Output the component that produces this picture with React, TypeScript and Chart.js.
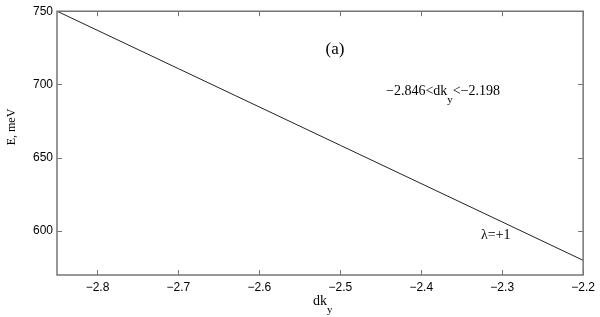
import React, { useEffect, useRef } from "react";
import { Chart, registerables } from "chart.js";

Chart.register(...registerables);

const dkY: number[] = [-2.85, -2.7, -2.5, -2.3, -2.2];
const energy: number[] = [750, 710.8, 658.5, 606.2, 580];
const xTicks: number[] = [-2.8, -2.7, -2.6, -2.5, -2.4, -2.3, -2.2];
const yTicks: number[] = [600, 650, 700, 750];
const xRange: number[] = [-2.85, -2.2];
const yRange: number[] = [570, 750];

const SERIF = "'Liberation Serif', 'DejaVu Serif', serif";
const SANS = "'Liberation Sans', Arial, sans-serif";

function drawSub(ctx: CanvasRenderingContext2D, parts: [string, boolean][], x: number, y: number, size: number) {
  const subSize = Math.round(size * 0.8);
  let cx = x;
  parts.forEach(([t, sub]) => {
    ctx.font = `${sub ? subSize : size}px ${SERIF}`;
    ctx.textAlign = "left";
    ctx.textBaseline = "alphabetic";
    ctx.fillText(t, cx, sub ? y + size * 0.55 : y);
    cx += ctx.measureText(t).width;
  });
}

const framePlugin = {
  id: "frame",
  afterDraw(chart: any) {
    const { ctx, chartArea } = chart;
    const { left, right, top, bottom } = chartArea;
    const xs = chart.scales.x;
    const ys = chart.scales.y;
    ctx.save();
    ctx.strokeStyle = "#757575";
    ctx.lineWidth = 1.5;
    ctx.beginPath();
    ctx.rect(left, top, right - left, bottom - top);
    ctx.stroke();
    ctx.lineWidth = 1;
    const tl = 5;
    ctx.beginPath();
    xTicks.forEach((v) => {
      const px = Math.round(xs.getPixelForValue(v)) + 0.5;
      ctx.moveTo(px, bottom);
      ctx.lineTo(px, bottom - tl);
      ctx.moveTo(px, top);
      ctx.lineTo(px, top + tl);
    });
    yTicks.forEach((v) => {
      const py = Math.round(ys.getPixelForValue(v)) + 0.5;
      ctx.moveTo(left, py);
      ctx.lineTo(left + tl, py);
      ctx.moveTo(right, py);
      ctx.lineTo(right - tl, py);
    });
    ctx.stroke();

    ctx.fillStyle = "#000";
    ctx.font = `17px ${SERIF}`;
    ctx.textAlign = "center";
    ctx.textBaseline = "alphabetic";
    ctx.fillText("(a)", 335, 54);
    drawSub(ctx, [["\u22122.846<dk", false], ["y", true], ["<\u22122.198", false]], 386, 95, 14);
    ctx.font = `14px ${SERIF}`;
    ctx.textAlign = "left";
    ctx.fillText("\u03bb=+1", 481, 239);
    drawSub(ctx, [["dk", false], ["y", true]], 313, 305, 14);
    ctx.save();
    ctx.translate(15, 127);
    ctx.rotate(-Math.PI / 2);
    ctx.font = `12px ${SERIF}`;
    ctx.textAlign = "center";
    ctx.fillText("E, meV", 0, 0);
    ctx.restore();
    ctx.restore();
  },
};

export default function App() {
  const ref = useRef<HTMLCanvasElement>(null);
  useEffect(() => {
    document.body.style.margin = "0";
    const chart = new Chart(ref.current as HTMLCanvasElement, {
      type: "line",
      data: {
        datasets: [
          {
            data: dkY.map((x, i) => ({ x, y: energy[i] })),
            borderColor: "#222",
            borderWidth: 1,
            pointRadius: 0,
            fill: false,
            tension: 0,
          },
        ],
      },
      options: {
        animation: false,
        responsive: false,
        layout: { padding: { left: 0, right: 12, top: 10, bottom: 0 } },
        plugins: { legend: { display: false }, tooltip: { enabled: false } },
        scales: {
          x: {
            type: "linear",
            min: xRange[0],
            max: xRange[1],
            afterBuildTicks: (s: any) => {
              s.ticks = xTicks.map((v) => ({ value: v }));
            },
            afterFit: (s: any) => {
              s.height = 42;
            },
            grid: { display: false, drawTicks: false },
            border: { display: false },
            ticks: {
              color: "#000",
              font: { family: SANS, size: 12 },
              padding: 5,
              maxRotation: 0,
              callback: (v: any) => Number(v).toFixed(1).replace("-", "\u2212"),
            },
          },
          y: {
            type: "linear",
            min: yRange[0],
            max: yRange[1],
            afterBuildTicks: (s: any) => {
              s.ticks = yTicks.map((v) => ({ value: v }));
            },
            afterFit: (s: any) => {
              s.width = 57;
            },
            grid: { display: false, drawTicks: false },
            border: { display: false },
            ticks: {
              color: "#000",
              font: { family: SANS, size: 12 },
              padding: 4,
              callback: (v: any) => String(v),
            },
          },
        },
      },
      plugins: [framePlugin],
    });
    return () => chart.destroy();
  }, []);
  return (
    <div style={{ width: 600, height: 317 }}>
      <canvas ref={ref} width={600} height={317} />
    </div>
  );
}
